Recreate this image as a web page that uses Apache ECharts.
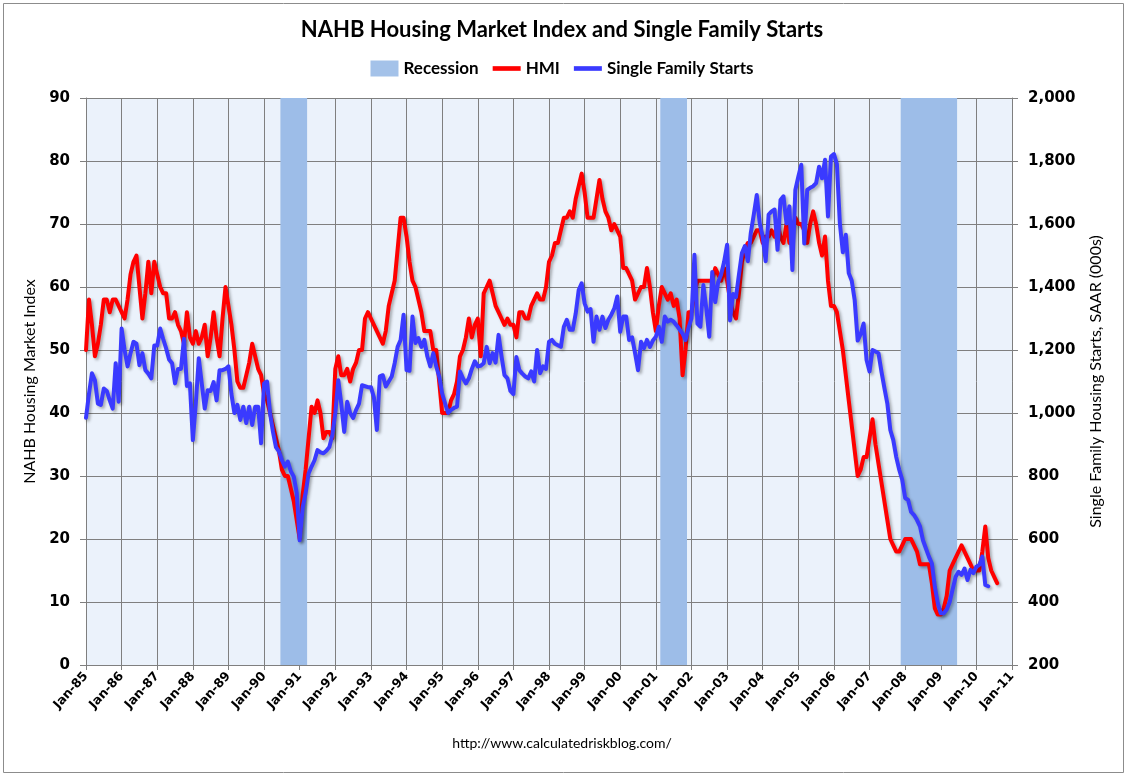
<!DOCTYPE html>
<html>
<head>
<meta charset="utf-8">
<script src="https://cdn.jsdelivr.net/npm/echarts@6/dist/echarts.min.js"></script>
<style>
html,body{margin:0;padding:0;background:#fff;}
#chart{width:1124px;height:773px;}
</style>
</head>
<body>
<div id="chart"></div>
<script>
// Year tick labels (one every 12 months, Jan-85 .. Jan-11)
const xLabels = ['Jan-85','Jan-86','Jan-87','Jan-88','Jan-89','Jan-90','Jan-91','Jan-92','Jan-93','Jan-94','Jan-95','Jan-96','Jan-97','Jan-98','Jan-99','Jan-00','Jan-01','Jan-02','Jan-03','Jan-04','Jan-05','Jan-06','Jan-07','Jan-08','Jan-09','Jan-10','Jan-11'];

// NAHB Housing Market Index, monthly from Jan 1985
const hmi = [
  50,58,54,49,51,54,58,58,56,58,58,57,   // 1985
  56,55,58,62,64,65,60,55,59,64,59,64,   // 1986
  62,60,59,59,55,55,56,54,53,51,56,52,   // 1987
  51,53,51,52,54,49,52,56,52,49,55,60,   // 1988
  57,54,50,45,44,44,46,48,51,49,47,46,   // 1989
  43,42,40,38,36,34,31,30,30,28,26,23,   // 1990
  20,27,31,36,41,40,42,40,36,37,37,36,   // 1991
  47,49,46,46,47,45,47,48,50,50,55,56,   // 1992
  55,54,53,52,51,53,57,59,61,66,71,71,   // 1993
  68,64,61,60,58,56,53,53,53,50,50,45,   // 1994
  40,40,40,42,43,45,49,50,52,55,52,54,   // 1995
  55,49,59,60,61,59,57,56,55,54,55,54,   // 1996
  54,52,56,56,55,55,57,58,59,58,58,60,   // 1997
  64,65,67,67,69,71,71,72,71,74,76,78,   // 1998
  75,71,71,71,74,77,74,72,71,69,70,69,   // 1999
  68,63,63,62,61,58,59,60,60,63,60,56,   // 2000
  53,57,60,59,58,59,57,58,55,46,50,56,   // 2001
  56,59,61,61,61,61,61,61,63,62,61,63,   // 2002
  61,58,56,55,59,64,66,67,67,68,69,69,   // 2003
  67,68,68,69,68,70,68,67,70,67,69,71,   // 2004
  70,70,69,67,70,72,70,67,65,68,61,57,   // 2005
  57,56,53,50,46,42,38,34,30,31,33,33,   // 2006
  36,39,35,32,29,26,23,20,19,18,18,19,   // 2007
  20,20,20,19,18,16,16,16,16,13,9,8,     // 2008
  8,9,11,15,16,17,18,19,18,17,16,15,     // 2009
  15,15,18,22,17,15,14,13                // 2010
];

// Single family housing starts, SAAR (000s), monthly from Jan 1985
const starts = [
  985,1060,1126,1104,1030,1026,1078,1070,1040,1014,1158,1036,        // 1985
  1268,1200,1148,1190,1226,1220,1152,1190,1136,1125,1110,1214,       // 1986
  1214,1268,1235,1205,1170,1158,1094,1140,1140,1236,1086,1094,       // 1987
  914,1030,1174,1094,1014,1072,1070,1098,1040,1136,1136,1140,        // 1988
  1148,1060,1000,1026,978,1020,968,1020,962,1020,1020,904,           // 1989
  1094,1100,1000,940,892,878,850,830,846,815,798,746,                // 1990
  596,700,746,808,830,850,882,875,872,880,892,930,                   // 1991
  1000,1104,1030,940,1036,1000,984,1010,1030,1088,1085,1082,         // 1992
  1082,1050,946,1116,1120,1084,1100,1116,1158,1210,1232,1312,        // 1993
  1136,1134,1306,1222,1238,1210,1232,1180,1148,1190,1148,1116,       // 1994
  1062,1030,1000,1010,1016,1020,1132,1110,1094,1110,1140,1164,       // 1995
  1148,1150,1158,1210,1158,1190,1160,1248,1180,1120,1110,1070,       // 1996
  1060,1178,1136,1125,1116,1110,1132,1100,1200,1126,1148,1140,       // 1997
  1226,1232,1220,1215,1210,1274,1296,1264,1264,1316,1390,1412,       // 1998
  1348,1322,1330,1226,1306,1264,1306,1270,1296,1312,1332,1370,       // 1999
  1258,1306,1306,1232,1240,1190,1136,1226,1206,1232,1210,1230,       // 2000
  1242,1274,1226,1306,1290,1296,1290,1278,1265,1252,1232,1270,       // 2001
  1300,1502,1284,1274,1406,1332,1242,1448,1352,1416,1440,1480,       // 2002
  1534,1294,1378,1368,1440,1508,1530,1482,1572,1630,1692,1602,       // 2003
  1560,1482,1630,1640,1646,1518,1676,1688,1602,1656,1454,1708,       // 2004
  1750,1788,1538,1708,1715,1720,1730,1782,1745,1804,1624,1814,       // 2005
  1822,1790,1602,1510,1566,1444,1420,1358,1230,1250,1284,1168,       // 2006
  1132,1200,1195,1190,1132,1080,1030,946,914,860,820,788,            // 2007
  730,724,686,676,660,640,596,570,544,522,448,396,                   // 2008
  364,364,376,400,440,480,496,486,506,470,502,492,                   // 2009
  512,518,544,454,450                                                // 2010
];

// Recessions (month index from Jan 1985): Jul-90..Mar-91, Mar-01..Nov-01, Dec-07..Jun-09
const recessionStart = [66, 194, 275];
const recessionEnd   = [74, 202, 293];

const seriesNames = ['Recession', 'HMI', 'Single Family Starts'];

const chart = echarts.init(document.getElementById('chart'));

const labelFont = 'DejaVu Sans';
const textFont = 'Lato';
const gridColor = '#7f7f7f';

const option = {
  backgroundColor: '#ffffff',
  animation: false,
  title: {
    text: 'NAHB Housing Market Index and Single Family Starts',
    left: 'center',
    top: 14,
    textStyle: { fontFamily: textFont, fontSize: 22, fontWeight: 'bold', color: '#000' }
  },
  legend: {
    top: 55,
    left: 'center',
    itemGap: 14,
    itemWidth: 28,
    itemHeight: 16,
    textStyle: { fontFamily: textFont, fontSize: 17, fontWeight: 'bold', color: '#000' },
    data: [
      { name: seriesNames[0], icon: 'rect' },
      { name: seriesNames[1], icon: 'path://M0,0 L30,0 L30,5 L0,5 Z' },
      { name: seriesNames[2], icon: 'path://M0,0 L30,0 L30,5 L0,5 Z' }
    ]
  },
  grid: {
    left: 86, right: 112, top: 98, bottom: 108,
    show: true,
    backgroundColor: '#ebf2fb',
    borderWidth: 0
  },
  xAxis: {
    type: 'value',
    min: 0, max: 312, interval: 12,
    axisLine: { show: true, lineStyle: { color: gridColor, width: 1 } },
    axisTick: { show: true, length: 5, lineStyle: { color: gridColor } },
    splitLine: { show: true, lineStyle: { color: gridColor, width: 1 } },
    axisLabel: {
      rotate: 48,
      margin: 9,
      fontFamily: labelFont,
      fontWeight: 'bold',
      fontSize: 12.5,
      color: '#000',
      formatter: function (v) { return xLabels[Math.round(v / 12)]; }
    }
  },
  yAxis: [
    {
      type: 'value',
      min: 0, max: 90, interval: 10,
      name: 'NAHB Housing Market Index',
      nameLocation: 'middle',
      nameRotate: 90,
      nameGap: 46,
      nameTextStyle: { fontFamily: textFont, fontSize: 16, color: '#000' },
      axisLine: { show: true, lineStyle: { color: gridColor } },
      axisTick: { show: true, length: 6, lineStyle: { color: gridColor } },
      splitLine: { show: true, lineStyle: { color: gridColor, width: 1 } },
      axisLabel: { margin: 16, fontFamily: labelFont, fontWeight: 'bold', fontSize: 15, color: '#000' }
    },
    {
      type: 'value',
      min: 200, max: 2000, interval: 200,
      position: 'right',
      name: 'Single Family Housing Starts, SAAR (000s)',
      nameLocation: 'middle',
      nameRotate: 90,
      nameGap: 76,
      nameTextStyle: { fontFamily: textFont, fontSize: 16, color: '#000' },
      axisLine: { show: true, lineStyle: { color: gridColor } },
      axisTick: { show: true, length: 6, lineStyle: { color: gridColor } },
      splitLine: { show: false },
      axisLabel: {
        margin: 16, fontFamily: labelFont, fontWeight: 'bold', fontSize: 15, color: '#000',
        formatter: function (v) { return v.toLocaleString('en-US'); }
      }
    }
  ],
  series: [
    {
      name: seriesNames[0],
      type: 'line',
      data: [],
      symbol: 'none',
      itemStyle: { color: '#a4c2e9' },
      lineStyle: { width: 0 },
      markArea: {
        silent: true,
        itemStyle: { color: '#9dbde8', opacity: 1 },
        data: recessionStart.map(function (s, i) {
          return [{ xAxis: s - 0.5 }, { xAxis: recessionEnd[i] + 0.5 }];
        })
      },
      z: 1
    },
    {
      name: seriesNames[1],
      type: 'line',
      yAxisIndex: 0,
      symbol: 'none',
      data: hmi.map(function (v, i) { return [i, v]; }),
      itemStyle: { color: '#ff0000' },
      lineStyle: {
        color: '#ff0000', width: 4, join: 'round', cap: 'round',
        shadowColor: 'rgba(0,0,0,0.3)', shadowBlur: 3, shadowOffsetX: 2, shadowOffsetY: 2
      },
      z: 3
    },
    {
      name: seriesNames[2],
      type: 'line',
      yAxisIndex: 1,
      symbol: 'none',
      data: starts.map(function (v, i) { return [i, v]; }),
      itemStyle: { color: '#3a3aff' },
      lineStyle: {
        color: '#3a3aff', width: 4, join: 'round', cap: 'round',
        shadowColor: 'rgba(0,0,0,0.3)', shadowBlur: 3, shadowOffsetX: 2, shadowOffsetY: 2
      },
      z: 4
    }
  ],
  graphic: [
    {
      type: 'rect',
      left: 1, top: 1,
      shape: { width: 1120, height: 769 },
      style: { fill: 'none', stroke: '#8c8c8c', lineWidth: 1 },
      silent: true
    },
    {
      type: 'text',
      left: 'center',
      top: 736,
      style: { text: 'http://www.calculatedriskblog.com/', font: '14px Lato', fill: '#000' }
    }
  ]
};

chart.setOption(option);
</script>
</body>
</html>
